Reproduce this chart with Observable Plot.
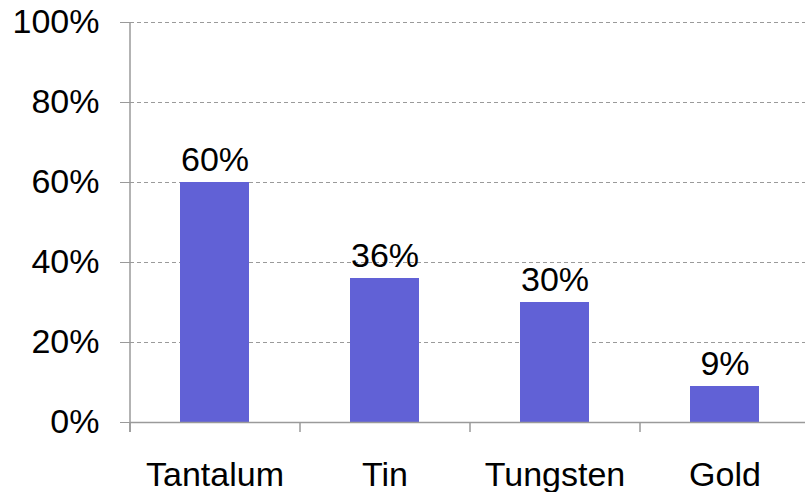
<!DOCTYPE html>
<html>
<head>
<meta charset="utf-8">
<script src="https://cdn.jsdelivr.net/npm/d3@7"></script>
<script src="https://cdn.jsdelivr.net/npm/@observablehq/plot@0.6"></script>
<style>
  html, body { margin: 0; padding: 0; background: #fff; }
  svg { font-family: "Liberation Sans", Arial, sans-serif; }
</style>
</head>
<body>
<div id="chart"></div>
<script>
const categories = ["Tantalum", "Tin", "Tungsten", "Gold"];
const values = [60, 36, 30, 9];
const yTicks = [0, 20, 40, 60, 80, 100];

const data = categories.map((c, i) => ({ name: c, value: values[i] }));
const FS = 34;
const axisColor = "#9a9a9a";

const chart = Plot.plot({
  width: 805,
  height: 492,
  marginLeft: 130,
  marginRight: 0,
  marginTop: 22,
  marginBottom: 70,
  style: { fontFamily: "'Liberation Sans', Arial, sans-serif", color: "#000", background: "#fff" },
  x: { domain: categories, range: [130, 810], paddingInner: 0.594, paddingOuter: 0.297, label: null },
  y: { domain: [0, 100], label: null },
  marks: [
    Plot.ruleY(yTicks.filter(d => d > 0), { stroke: axisColor, strokeDasharray: "4,3", strokeWidth: 1 }),
    Plot.barY(data, { x: "name", y: "value", fill: "#6161d6" }),
    Plot.ruleY([0], { stroke: axisColor, strokeWidth: 1.5 }),
    // category boundary ticks below the axis, and vertical axis line
    Plot.ruleX(categories, { x: d => d, dx: -85, y1: 0, y2: -2.5, stroke: axisColor, strokeWidth: 1.5 }),
    Plot.ruleX([categories[0]], { x: d => d, dx: -85, y1: -2.5, y2: 100, stroke: axisColor, strokeWidth: 1.5 }),
    Plot.text(data, { x: "name", y: "value", text: d => d.value + "%", dy: -12, lineAnchor: "bottom", fontSize: FS, fill: "#000" }),
    Plot.axisY({ ticks: yTicks, tickFormat: d => d + "%", tickSize: 10, tickPadding: 21, fontSize: FS, stroke: axisColor, fill: "#000" }),
    Plot.axisX({ tickSize: 0, tickPadding: 39, fontSize: FS, fill: "#000" })
  ]
});
document.getElementById("chart").appendChild(chart);
</script>
</body>
</html>
